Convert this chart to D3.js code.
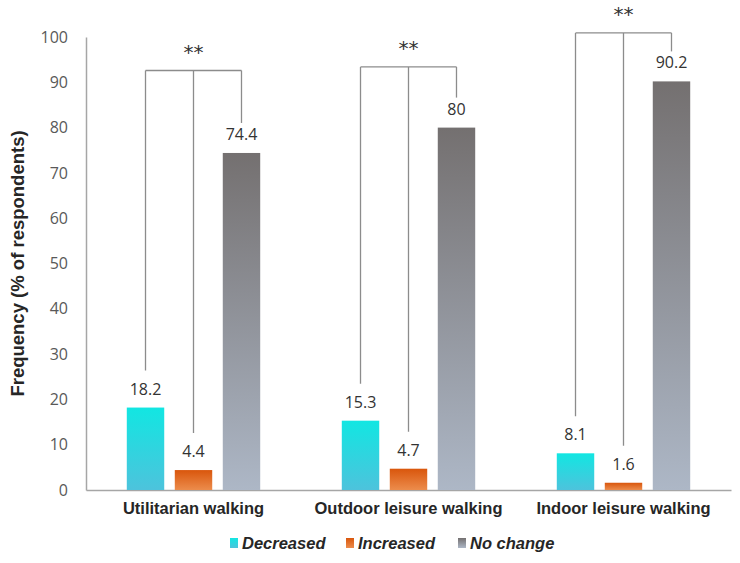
<!DOCTYPE html>
<html>
<head>
<meta charset="utf-8">
<script src="https://cdn.jsdelivr.net/npm/d3@7"></script>
<style>
  body { margin: 0; background: #fff; }
  svg { display: block; }
</style>
</head>
<body>
<svg id="chart"></svg>
<script>
var categories = ["Utilitarian walking", "Outdoor leisure walking", "Indoor leisure walking"];
var seriesNames = ["Decreased", "Increased", "No change"];
var decreased = [18.2, 15.3, 8.1];
var increased = [4.4, 4.7, 1.6];
var noChange = [74.4, 80, 90.2];
var yTicks = [0, 10, 20, 30, 40, 50, 60, 70, 80, 90, 100];
// height of each significance bracket, in axis units
var bracketLevel = [92.6, 93.4, 100.9];
var bracketMark = ["**", "**", "**"];

(function () {
var width = 740, height = 563;
var svg = d3.select("#chart").attr("width", width).attr("height", height);

var mLeft = 86, mRight = 731, mTop = 37, mBottom = 490;

var x0 = d3.scaleBand().domain(categories).range([mLeft, mRight]);
var x1 = d3.scaleBand().domain(seriesNames).range([0, x0.bandwidth()])
           .paddingInner(0.22).paddingOuter(0.85);
var y = d3.scaleLinear().domain([0, 100]).range([mBottom, mTop]);

// gradients, one per series
var gradStops = {
    "Decreased": ["#12e6e2", "#4dc3dc"],
    "Increased": ["#d9560c", "#ec8c4c"],
    "No change": ["#747070", "#adb7c6"]
};
var defs = svg.append("defs");
seriesNames.forEach(function (s, i) {
    var g = defs.append("linearGradient")
        .attr("id", "grad" + i)
        .attr("x1", 0).attr("y1", 0).attr("x2", 0).attr("y2", 1);
    g.append("stop").attr("offset", "0%").attr("stop-color", gradStops[s][0]);
    g.append("stop").attr("offset", "100%").attr("stop-color", gradStops[s][1]);
});

var rows = categories.map(function (c, i) {
    return { category: c, values: [decreased[i], increased[i], noChange[i]] };
});

// y axis: labels only, plus the axis line
var yAxis = svg.append("g")
    .attr("transform", "translate(" + mLeft + ",0)")
    .call(d3.axisLeft(y).tickValues(yTicks).tickSize(0).tickPadding(18));
yAxis.select(".domain").attr("stroke", "#a6a6a6").attr("stroke-width", 1.5);
yAxis.selectAll("text")
    .attr("font-family", "'Open Sans', 'Noto Sans', sans-serif")
    .attr("font-size", 16)
    .attr("fill", "#595959");

// x axis
var xAxis = svg.append("g")
    .attr("transform", "translate(0," + mBottom + ")")
    .call(d3.axisBottom(x0).tickSize(0).tickPadding(12));
xAxis.select(".domain").attr("stroke", "#a6a6a6").attr("stroke-width", 1.5);
xAxis.selectAll("text")
    .attr("font-family", "'Liberation Sans', Arial, sans-serif")
    .attr("font-weight", "bold")
    .attr("font-size", 16.5)
    .attr("fill", "#262626");

// y title
svg.append("text")
    .attr("transform", "translate(24," + ((mTop + mBottom) / 2) + ") rotate(-90)")
    .attr("text-anchor", "middle")
    .attr("font-family", "'Liberation Sans', Arial, sans-serif")
    .attr("font-weight", "bold")
    .attr("font-size", 18.5)
    .attr("fill", "#262626")
    .text("Frequency (% of respondents)");

var groups = svg.append("g").selectAll(".group")
    .data(rows)
    .enter()
    .append("g")
    .classed("group", true)
    .attr("transform", d => "translate(" + x0(d.category) + ",0)");

var cells = d => d.values.map((v, i) => ({ series: seriesNames[i], index: i, value: v }));

groups.selectAll("rect")
    .data(cells)
    .enter()
    .append("rect")
    .attr("x", d => x1(d.series))
    .attr("y", d => y(d.value))
    .attr("width", x1.bandwidth())
    .attr("height", d => mBottom - y(d.value))
    .attr("fill", d => "url(#grad" + d.index + ")");

groups.selectAll(".val")
    .data(cells)
    .enter()
    .append("text")
    .classed("val", true)
    .attr("x", d => x1(d.series) + x1.bandwidth() / 2)
    .attr("y", d => y(d.value) - 13)
    .attr("text-anchor", "middle")
    .attr("font-family", "'Open Sans', 'Noto Sans', sans-serif")
    .attr("font-size", 16)
    .attr("fill", "#333")
    .text(d => d.value);

// significance brackets
groups.each(function (d, gi) {
    var g = d3.select(this);
    var yb = y(bracketLevel[gi]);
    var cx = seriesNames.map(s => x1(s) + x1.bandwidth() / 2);
    g.append("line")
        .attr("x1", cx[0]).attr("x2", cx[2])
        .attr("y1", yb).attr("y2", yb)
        .attr("stroke", "#8c8c8c").attr("stroke-width", 1.3);
    d.values.forEach(function (v, i) {
        var end = y(v) - (i === 2 ? 30 : 37);
        g.append("line")
            .attr("x1", cx[i]).attr("x2", cx[i])
            .attr("y1", yb).attr("y2", end)
            .attr("stroke", "#8c8c8c").attr("stroke-width", 1.3);
    });
    g.append("text")
        .attr("x", cx[1])
        .attr("y", yb - 12)
        .attr("text-anchor", "middle")
        .attr("font-family", "'DejaVu Sans', sans-serif")
        .attr("font-size", 20)
        .attr("fill", "#333")
        .text(bracketMark[gi]);
});

// legend
var legendX = [230, 346, 458];
var legend = svg.append("g").attr("transform", "translate(0,543)");
var items = legend.selectAll(".legend-item")
    .data(seriesNames)
    .enter()
    .append("g")
    .classed("legend-item", true)
    .attr("transform", (d, i) => "translate(" + legendX[i] + ",0)");

items.append("rect")
    .attr("x", 0)
    .attr("y", -5)
    .attr("width", 8)
    .attr("height", 10)
    .attr("fill", (d, i) => "url(#grad" + i + ")");

items.append("text")
    .attr("x", 12)
    .attr("y", 6)
    .attr("font-family", "'Liberation Sans', Arial, sans-serif")
    .attr("font-weight", "bold")
    .attr("font-style", "italic")
    .attr("font-size", 16.5)
    .attr("fill", "#262626")
    .text(d => d);
})();
</script>
</body>
</html>
